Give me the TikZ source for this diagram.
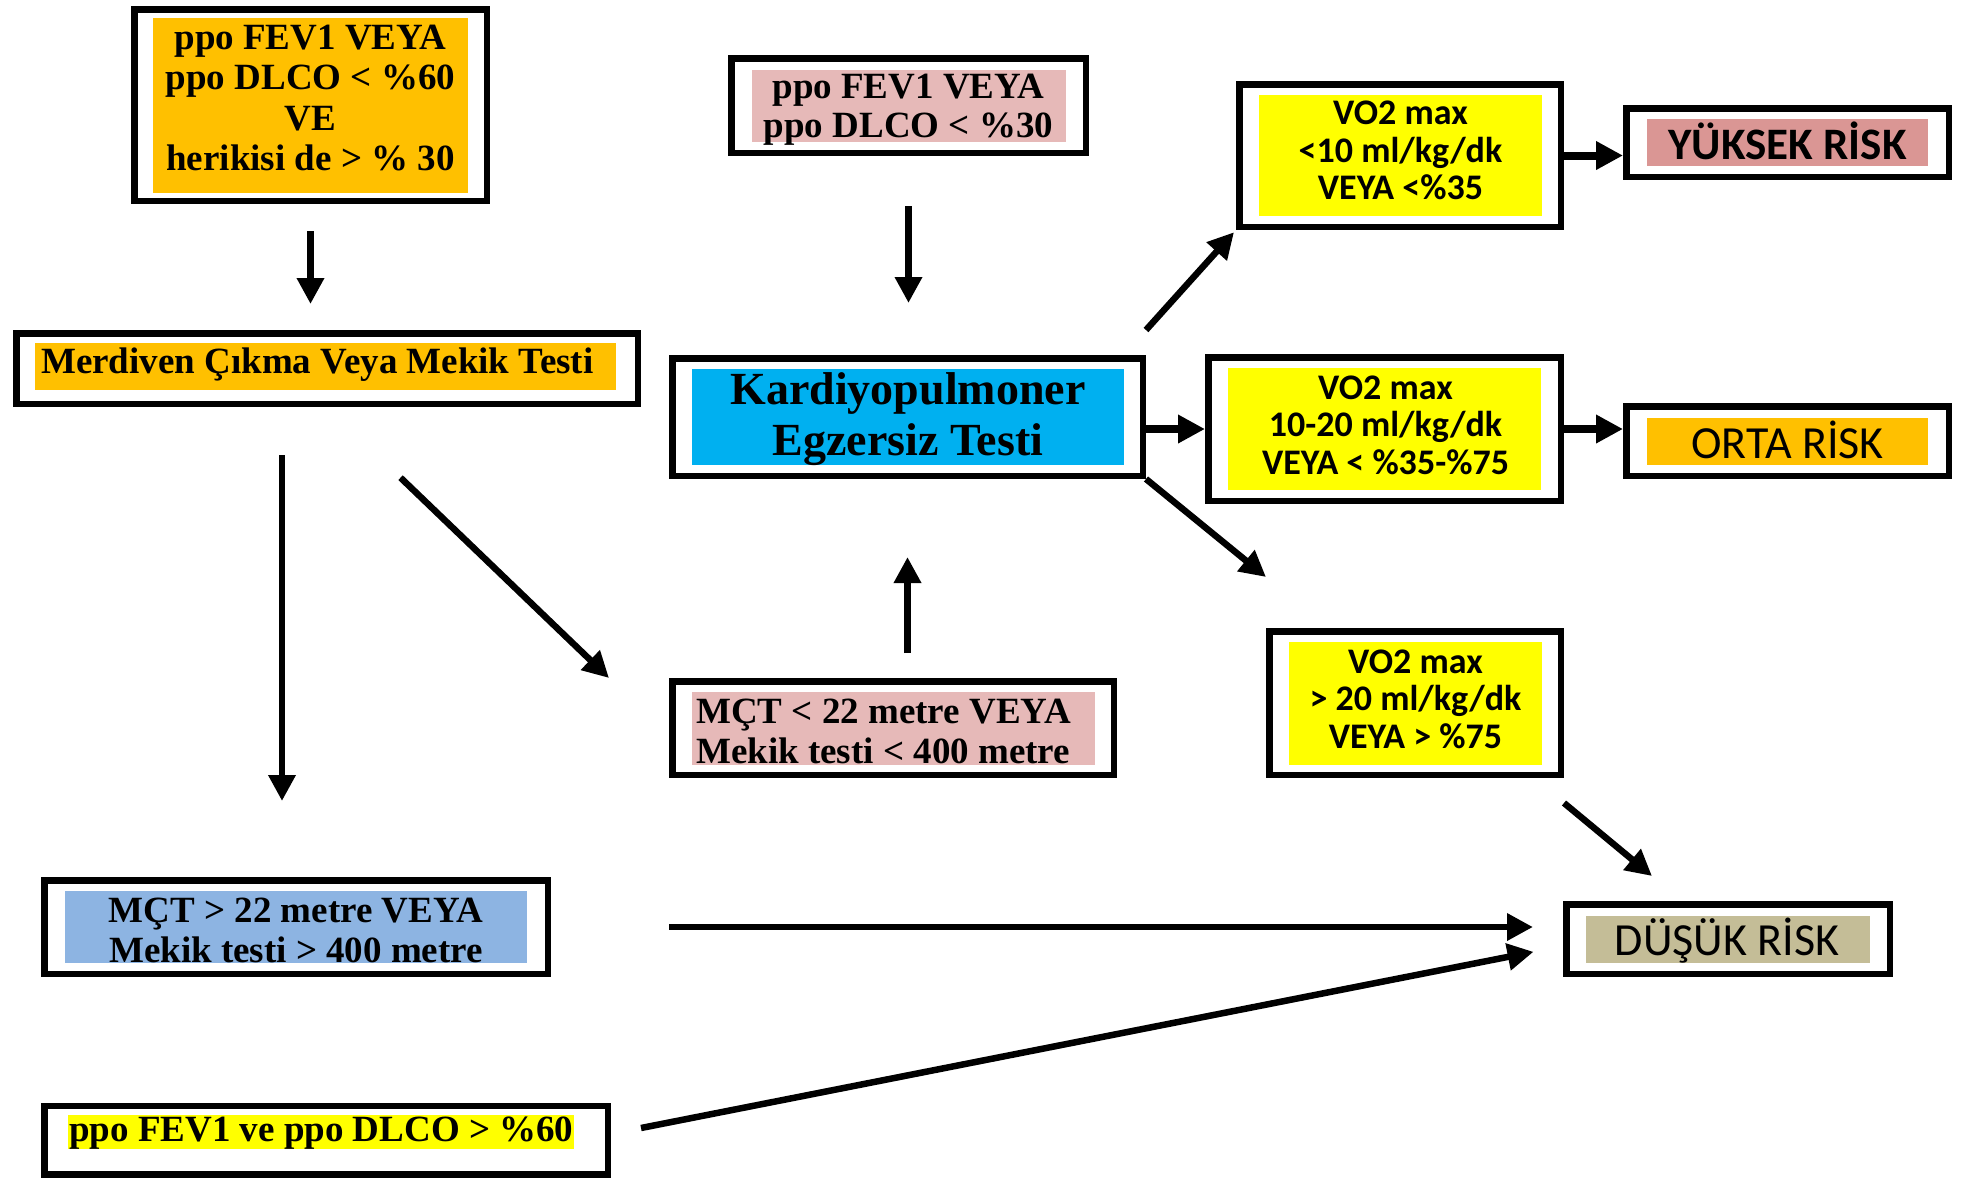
\documentclass[tikz,border=0pt]{standalone}
\usepackage{fontspec}
\setmainfont{Liberation Serif}
\newfontfamily\calibri{Carlito}
\usetikzlibrary{arrows.meta}
\definecolor{turuncu}{HTML}{FFC000}
\definecolor{pembe}{HTML}{E6B9B8}
\definecolor{koyupembe}{HTML}{DA9694}
\definecolor{camgobegi}{HTML}{00B0F0}
\definecolor{sari}{HTML}{FFFF00}
\definecolor{haki}{HTML}{C4BD97}
\definecolor{mavi}{HTML}{8DB4E2}

\begin{document}
\begin{tikzpicture}[x=1pt,y=-1pt,
    cerceve/.style={draw=black, line width=6.5pt, fill=white, inner sep=0pt},
    zemin/.style={inner sep=0pt},
    yazi/.style={font=\bfseries\fontsize{37}{40.5}\selectfont, align=center, inner sep=0pt},
    kyazi/.style={font=\calibri\bfseries\fontsize{36}{37.5}\selectfont, align=center, inner sep=0pt},
    ok/.style={-{Triangle[length=26pt,width=26pt]}, line width=6.5pt},
    kisaok/.style={-{Triangle[length=27pt,width=27pt]}, line width=8pt}]
    \useasboundingbox (0,0) rectangle (1962,1179);
    % sol sutun
    \node[cerceve, minimum width=352.5pt, minimum height=191.5pt] (kosulF) at (310.5,105) {};
    \node[zemin, fill=turuncu, minimum width=315pt, minimum height=175pt] (kosulB) at (kosulF.center) {};
    \node[yazi] (kosul) at (310.5,98) {ppo FEV1 VEYA\\ppo DLCO < \%60\\VE\\herikisi de > \% 30};

    \node[cerceve, minimum width=621.5pt, minimum height=70.5pt] (merdivenF) at (327,368.5) {};
    \node[zemin, fill=turuncu, minimum width=581pt, minimum height=47pt] (merdivenB) at (325.5,366.5) {};
    \node[yazi, anchor=west] (merdiven) at (41,365) {Merdiven Çıkma Veya Mekik Testi};

    \node[cerceve, minimum width=503.5pt, minimum height=93.5pt] (mctUstF) at (296,927) {};
    \node[zemin, fill=mavi, minimum width=462pt, minimum height=72pt] (mctUstB) at (mctUstF.center) {};
    \node[yazi, font=\bfseries\fontsize{37}{40}\selectfont] (mctUst) at (296,930.5) {MÇT > 22 metre VEYA\\Mekik testi > 400 metre};

    \node[cerceve, minimum width=563.5pt, minimum height=68.5pt] (ppoUstF) at (326,1140) {};
    \node[yazi, anchor=west, fill=sari, inner xsep=1pt, text height=26pt, text depth=8pt] (ppoUst) at (68,1132) {ppo FEV1 ve ppo DLCO > \%60};

    % orta sutun
    \node[cerceve, minimum width=354.5pt, minimum height=94.5pt] (ppoAltF) at (908.5,105.5) {};
    \node[zemin, fill=pembe, minimum width=314pt, minimum height=72pt] (ppoAltB) at (ppoAltF.center) {};
    \node[yazi, font=\bfseries\fontsize{37}{38.5}\selectfont] (ppoAlt) at (908.5,109.5) {ppo FEV1 VEYA\\ppo DLCO < \%30};

    \node[cerceve, minimum width=470.5pt, minimum height=117.5pt] (kpetF) at (907.5,417) {};
    \node[zemin, fill=camgobegi, minimum width=432pt, minimum height=96pt] (kpetB) at (kpetF.center) {};
    \node[yazi, font=\bfseries\fontsize{46}{51}\selectfont] (kpet) at (908,419.5) {Kardiyopulmoner\\Egzersiz Testi};

    \node[cerceve, minimum width=441.5pt, minimum height=93.5pt] (mctAltF) at (893,728) {};
    \node[zemin, fill=pembe, minimum width=403pt, minimum height=73pt] (mctAltB) at (mctAltF.center) {};
    \node[yazi, font=\bfseries\fontsize{37}{40}\selectfont, align=left, anchor=west] (mctAlt) at (696,731) {MÇT < 22 metre VEYA\\Mekik testi < 400 metre};

    % VO2 max kutulari
    \node[cerceve, minimum width=321.5pt, minimum height=142.5pt] (vozYuksekF) at (1400,155.5) {};
    \node[zemin, fill=sari, minimum width=283pt, minimum height=121pt] (vozYuksekB) at (vozYuksekF.center) {};
    \node[kyazi] (vozYuksek) at (1400.5,150.5) {VO2 max\\<10 ml/kg/dk\\VEYA <\%35};

    \node[cerceve, minimum width=352.5pt, minimum height=143.5pt] (vozOrtaF) at (1384.5,429) {};
    \node[zemin, fill=sari, minimum width=313pt, minimum height=122pt] (vozOrtaB) at (vozOrtaF.center) {};
    \node[kyazi] (vozOrta) at (1385.5,425) {VO2 max\\10-20 ml/kg/dk\\VEYA < \%35-\%75};

    \node[cerceve, minimum width=291.5pt, minimum height=143.5pt] (vozDusukF) at (1415,703) {};
    \node[zemin, fill=sari, minimum width=253pt, minimum height=123pt] (vozDusukB) at (vozDusukF.center) {};
    \node[kyazi] (vozDusuk) at (1415.5,699) {VO2 max\\> 20 ml/kg/dk\\VEYA > \%75};

    % risk kutulari
    \node[cerceve, minimum width=322.5pt, minimum height=68.5pt] (yuksekF) at (1787.5,142.5) {};
    \node[zemin, fill=koyupembe, minimum width=281pt, minimum height=47pt] (yuksekB) at (yuksekF.center) {};
    \node[kyazi, font=\calibri\bfseries\fontsize{45}{50}\selectfont] (yuksek) at (1787.5,141) {YÜKSEK RİSK};

    \node[cerceve, minimum width=322.5pt, minimum height=69.5pt] (ortaF) at (1787.5,441) {};
    \node[zemin, fill=turuncu, minimum width=281pt, minimum height=47pt] (ortaB) at (ortaF.center) {};
    \node[kyazi, font=\calibri\fontsize{46}{50}\selectfont] (orta) at (1787.5,439.5) {ORTA RİSK};

    \node[cerceve, minimum width=323.5pt, minimum height=69.5pt] (dusukF) at (1728,939) {};
    \node[zemin, fill=haki, minimum width=284pt, minimum height=47pt] (dusukB) at (dusukF.center) {};
    \node[kyazi, font=\calibri\fontsize{46}{50}\selectfont] (dusuk) at (1727,941) {DÜŞÜK RİSK};

    % oklar
    \draw[ok, shorten <=27pt, shorten >=26pt] (kosulF.south) -- (kosulF.south |- merdivenF.north);
    \draw[ok, shorten <=50pt, shorten >=52pt] (ppoAltF.south) -- (ppoAltF.south |- kpetF.north);
    \draw[ok, shorten <=48pt, shorten >=76pt] ([xshift=-45pt]merdivenF.south) -- ([xshift=-45pt]merdivenF.south |- mctUstF.north);
    \draw[ok, shorten <=102pt] (merdivenF.south) -- ([xshift=-60pt]mctAltF.north west);
    \draw[ok, shorten <=25pt, shorten >=78pt] (kpetF.south |- mctAltF.north) -- (kpetF.south);
    \draw[ok, shorten >=3pt] ([yshift=25pt]kpetF.north east) -- (vozYuksekF.south west);
    \draw[kisaok] (vozOrtaF.west -| kpetF.east) -- (vozOrtaF.west);
    \draw[ok] (kpetF.south east) -- ([yshift=51pt]vozDusukF.north west);
    \draw[kisaok] (vozYuksekF.east) -- (vozYuksekF.east -| yuksekF.west);
    \draw[kisaok] (vozOrtaF.east) -- (vozOrtaF.east -| ortaF.west);
    \draw[ok] ([yshift=-25pt]vozDusukF.south east) -- ([xshift=89pt,yshift=25pt]dusukF.north west);
    \draw[ok, shorten <=118pt, shorten >=30pt] (mctUstF.east) -- (mctUstF.east -| dusukF.west);
    \draw[ok, shorten >=30pt] ([xshift=30pt,yshift=12pt]ppoUstF.east) -- ([yshift=-7pt]dusukF.west);
\end{tikzpicture}
\end{document}
